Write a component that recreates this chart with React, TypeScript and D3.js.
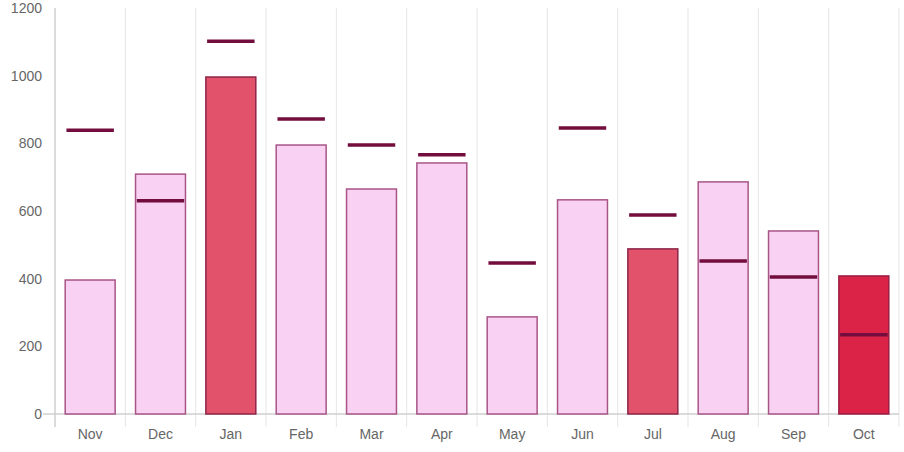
import React from 'react';
import * as d3 from 'd3';

const months = ['Nov', 'Dec', 'Jan', 'Feb', 'Mar', 'Apr', 'May', 'Jun', 'Jul', 'Aug', 'Sep', 'Oct'];
const actuals = [396, 709, 996, 795, 665, 742, 287, 633, 488, 686, 541, 408];
const targets = [839, 630, 1102, 872, 795, 766, 446, 845, 588, 452, 405, 234];
// bar style: 0 = light, 1 = highlight, 2 = current
const barKind = [0, 0, 1, 0, 0, 0, 0, 0, 1, 0, 0, 2];
const yTicks = [0, 200, 400, 600, 800, 1000, 1200];

const fills = ['#f9d1f3', '#e3526b', '#da2347'];
const strokes = ['#a85586', '#8e2448', '#9a1e45'];

const W = 904;
const H = 452;
const margin = { top: 8, right: 5, bottom: 38, left: 55 };

export default function App() {
  const innerW = W - margin.left - margin.right;
  const innerH = H - margin.top - margin.bottom;

  const x = d3.scaleBand<string>().domain(months).range([0, innerW]).paddingInner(0).paddingOuter(0);
  const y = d3.scaleLinear().domain([0, 1200]).range([innerH, 0]);

  const bw = x.bandwidth();
  const barW = bw * 0.71;
  const lineW = barW * 0.95;

  return (
    <svg width={W} height={H} style={{ position: 'absolute', left: 0, top: 0, background: '#fff' }}
      fontFamily="Arial, 'Liberation Sans', sans-serif">
      <g transform={`translate(${margin.left},${margin.top})`}>
        {/* vertical grid */}
        {months.map(m => (
          <line key={m} x1={x(m)! + bw} x2={x(m)! + bw} y1={0} y2={innerH + 13}
            stroke="#e5e5e5" strokeWidth={1} />
        ))}
        <line x1={0} x2={0} y1={0} y2={innerH + 13} stroke="#cfcfcf" strokeWidth={1.5} />
        <line x1={-12} x2={innerW} y1={innerH} y2={innerH} stroke="#cfcfcf" strokeWidth={1.5} />

        {yTicks.map(t => (
          <text key={t} x={-13} y={y(t)} dy="0.35em" textAnchor="end" fontSize={14} fill="#666">{t}</text>
        ))}
        {months.map(m => (
          <text key={m} x={x(m)! + bw / 2} y={innerH + 25} textAnchor="middle" fontSize={14} fill="#666">{m}</text>
        ))}

        {months.map((m, i) => {
          const k = barKind[i];
          const cx = x(m)! + bw / 2;
          return (
            <rect key={m} x={cx - barW / 2} y={y(actuals[i])} width={barW} height={innerH - y(actuals[i])}
              fill={fills[k]} stroke={strokes[k]} strokeWidth={1.5} />
          );
        })}
        {months.map((m, i) => {
          const cx = x(m)! + bw / 2;
          return (
            <line key={m} x1={cx - lineW / 2} x2={cx + lineW / 2} y1={y(targets[i])} y2={y(targets[i])}
              stroke="#720d3d" strokeWidth={3.5} />
          );
        })}
      </g>
    </svg>
  );
}
